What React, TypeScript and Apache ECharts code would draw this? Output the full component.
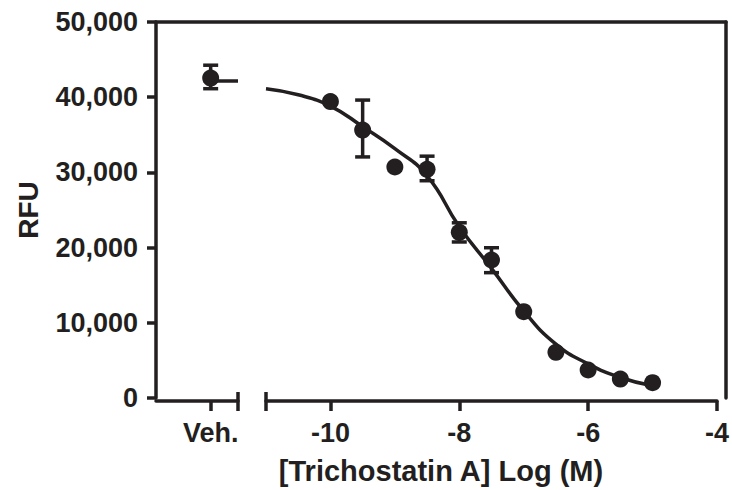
import React, { useEffect, useRef } from "react";
import * as echarts from "echarts";

const INK = "#231f20";
const FONT = "'Liberation Sans', Arial, Helvetica, sans-serif";

// Vehicle (break segment)
const vehX = 2;
const vehLabel = "Veh.";
const vehMean = 42600;
const vehLow = 41200;
const vehHigh = 44300;
const vehFitLevel = 42200;

// Dose points, log(M)
const doseX = [-10, -9.5, -9, -8.5, -8, -7.5, -7, -6.5, -6, -5.5, -5];
const doseMean = [39500, 35750, 30870, 30570, 22250, 18600, 11780, 6420, 4090, 2900, 2410];
const errLow: (number | null)[] = [null, 32200, null, 29060, 20980, 16930, null, null, null, null, null];
const errHigh: (number | null)[] = [null, 39700, null, 32300, 23510, 20220, null, null, null, null, null];

// Fitted curve
const fitX = [-11, -10.5, -10, -9.5, -9, -8.5, -8, -7.5, -7, -6.5, -6, -5.5, -5];
const fitY = [41200, 40400, 38900, 36200, 33300, 29700, 23000, 17500, 11900, 7500, 4900, 3100, 2000];

// Axis ticks
const yTicks = [0, 10000, 20000, 30000, 40000, 50000];
const xTickValues = [-10, -8, -6, -4];
const xMin = -11;
const xMax = -4;

const errorRender = (params: any, api: any) => {
  const x = api.value(0);
  const lo = api.value(1);
  const hi = api.value(2);
  const pLo = api.coord([x, lo]);
  const pHi = api.coord([x, hi]);
  const w = 7.5;
  const style = { stroke: INK, lineWidth: 3.5 };
  return {
    type: "group",
    children: [
      { type: "line", shape: { x1: pLo[0], y1: pLo[1], x2: pHi[0], y2: pHi[1] }, style },
      { type: "line", shape: { x1: pLo[0] - w, y1: pLo[1], x2: pLo[0] + w, y2: pLo[1] }, style },
      { type: "line", shape: { x1: pHi[0] - w, y1: pHi[1], x2: pHi[0] + w, y2: pHi[1] }, style },
    ],
  };
};

export default function App() {
  const ref = useRef<HTMLDivElement>(null);
  useEffect(() => {
    if (!ref.current) return;
    const chart = echarts.init(ref.current, undefined, { renderer: "svg" });
    const lineStyle = { color: INK, width: 3.5 };
    const labelStyle = { color: INK, fontFamily: FONT, fontWeight: "bold" as const, fontSize: 27 };
    const top = 22;
    const height = 379;

    const doseErr = doseX
      .map((x, i) => (errLow[i] != null ? [x, errLow[i], errHigh[i]] : null))
      .filter((d) => d !== null);

    chart.setOption({
      animation: false,
      grid: [
        { left: 156, top, width: 570, height },
        { left: 156, top, width: 82, height },
        { left: 266, top, width: 460, height },
      ],
      xAxis: [
        {
          gridIndex: 0, type: "value", position: "top", min: 0, max: 1,
          axisLine: { show: true, onZero: false, lineStyle }, axisTick: { show: false },
          axisLabel: { show: false }, splitLine: { show: false },
        },
        {
          gridIndex: 0, type: "value", position: "bottom", min: 0, max: 1,
          axisLine: { show: false, onZero: false }, axisTick: { show: false },
          axisLabel: { show: false }, splitLine: { show: false },
          name: "[Trichostatin A] Log (M)", nameLocation: "middle", nameGap: 58,
          nameTextStyle: { color: INK, fontFamily: FONT, fontWeight: "bold", fontSize: 29 },
        },
        {
          gridIndex: 1, type: "value", position: "bottom", min: 0, max: 3,
          axisLine: { show: true, onZero: false, lineStyle },
          axisTick: { show: true, length: 10, lineStyle, customValues: [vehX, 3] },
          axisLabel: { ...labelStyle, margin: 18, customValues: [vehX], formatter: () => vehLabel },
          splitLine: { show: false },
        },
        {
          gridIndex: 1, type: "value", position: "bottom", min: 0, max: 3,
          axisLine: { show: false, onZero: false },
          axisTick: { show: true, inside: true, length: 9, lineStyle, customValues: [3] },
          axisLabel: { show: false }, splitLine: { show: false },
        },
        {
          gridIndex: 2, type: "value", position: "bottom", min: xMin, max: xMax,
          axisLine: { show: true, onZero: false, lineStyle },
          axisTick: { show: true, length: 10, lineStyle, customValues: [xMin, ...xTickValues] },
          axisLabel: { ...labelStyle, margin: 18, customValues: xTickValues, formatter: (v: number) => String(v) },
          splitLine: { show: false },
        },
        {
          gridIndex: 2, type: "value", position: "bottom", min: xMin, max: xMax,
          axisLine: { show: false, onZero: false },
          axisTick: { show: true, inside: true, length: 9, lineStyle, customValues: [xMin] },
          axisLabel: { show: false }, splitLine: { show: false },
        },
      ],
      yAxis: [
        {
          gridIndex: 0, type: "value", position: "left", min: 0, max: 50000,
          axisLine: { show: true, onZero: false, lineStyle },
          axisTick: { show: true, length: 9, lineStyle, customValues: yTicks },
          axisLabel: {
            ...labelStyle, margin: 18, customValues: yTicks,
            formatter: (v: number) => v.toLocaleString("en-US"),
          },
          splitLine: { show: false },
          name: "RFU", nameLocation: "middle", nameGap: 114,
          nameTextStyle: { color: INK, fontFamily: FONT, fontWeight: "bold", fontSize: 28 },
        },
        {
          gridIndex: 0, type: "value", position: "right", min: 0, max: 50000,
          axisLine: { show: true, onZero: false, lineStyle }, axisTick: { show: false },
          axisLabel: { show: false }, splitLine: { show: false },
        },
        {
          gridIndex: 1, type: "value", min: 0, max: 50000, show: false,
        },
        {
          gridIndex: 2, type: "value", min: 0, max: 50000, show: false,
        },
      ],
      series: [
        {
          type: "line", xAxisIndex: 2, yAxisIndex: 2, symbol: "none",
          lineStyle: { color: INK, width: 3.5 },
          data: [[vehX, vehFitLevel], [3, vehFitLevel]], z: 2,
        },
        {
          type: "custom", xAxisIndex: 2, yAxisIndex: 2, renderItem: errorRender,
          encode: { x: 0, y: [1, 2] },
          data: [[vehX, vehLow, vehHigh]], z: 3,
        },
        {
          type: "scatter", xAxisIndex: 2, yAxisIndex: 2, symbol: "circle", symbolSize: 17,
          itemStyle: { color: INK, opacity: 1 }, data: [[vehX, vehMean]], z: 4,
        },
        {
          type: "line", xAxisIndex: 4, yAxisIndex: 3, symbol: "none", smooth: true,
          lineStyle: { color: INK, width: 3.5 },
          data: fitX.map((x, i) => [x, fitY[i]]), z: 2,
        },
        {
          type: "custom", xAxisIndex: 4, yAxisIndex: 3, renderItem: errorRender,
          encode: { x: 0, y: [1, 2] },
          data: doseErr, z: 3,
        },
        {
          type: "scatter", xAxisIndex: 4, yAxisIndex: 3, symbol: "circle", symbolSize: 17,
          itemStyle: { color: INK, opacity: 1 }, data: doseX.map((x, i) => [x, doseMean[i]]), z: 4,
        },
      ],
    });
    return () => chart.dispose();
  }, []);
  return (
    <div
      ref={ref}
      style={{ position: "absolute", left: 0, top: 0, width: 732, height: 490, background: "#fff" }}
    />
  );
}
